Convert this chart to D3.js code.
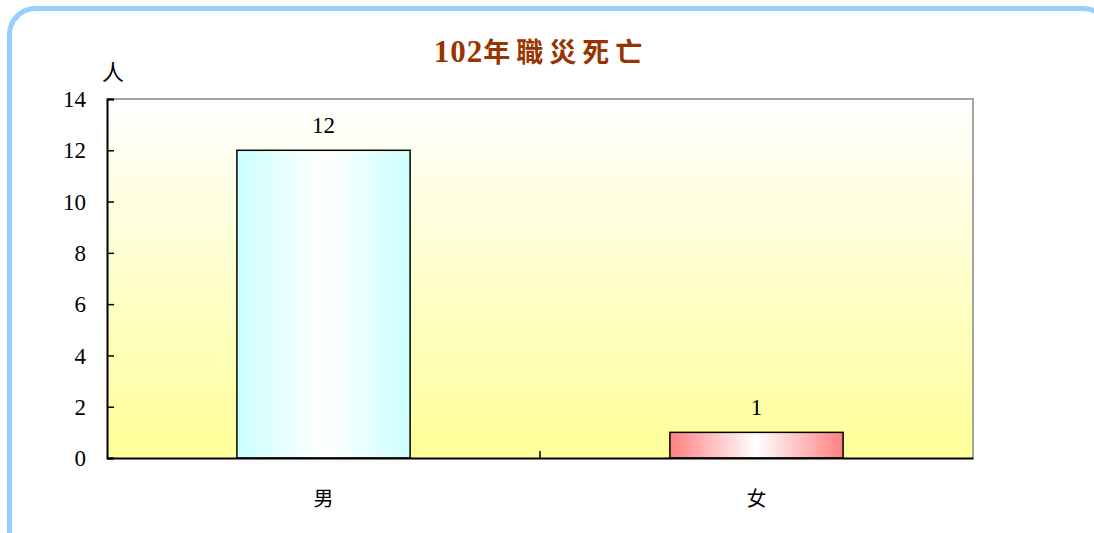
<!DOCTYPE html>
<html><head><meta charset="utf-8">
<script src="https://cdn.jsdelivr.net/npm/d3@7"></script>
<style>
html,body{margin:0;padding:0;background:#fff;}
svg{display:block;}
</style></head>
<body>
<svg id="chart" width="1094" height="533"></svg>
<script>
const titleNum = "102";
const titleText = "年職災死亡";
const unitLabel = "人";
const categories = ["男", "女"];
const values = [12, 1];
const yTicks = [0, 2, 4, 6, 8, 10, 12, 14];

const svg = d3.select("#chart");
const m = {left: 107, right: 973, top: 99, bottom: 458};
const serif = "'Liberation Serif','DejaVu Serif','Noto Sans CJK TC',serif";
const cjk = "'Noto Sans CJK TC','Noto Sans CJK SC',serif";

const defs = svg.append("defs");
const bg = defs.append("linearGradient").attr("id","bg").attr("x1",0).attr("y1",0).attr("x2",0).attr("y2",1);
bg.append("stop").attr("offset","0%").attr("stop-color","#ffffff");
bg.append("stop").attr("offset","100%").attr("stop-color","#ffff99");
const barColors = ["#ccffff", "#ff8080"];
barColors.forEach((c,i)=>{
  const g = defs.append("linearGradient").attr("id","bar"+i).attr("x1",0).attr("y1",0).attr("x2",1).attr("y2",0);
  g.append("stop").attr("offset","0%").attr("stop-color",c);
  g.append("stop").attr("offset","50%").attr("stop-color","#ffffff");
  g.append("stop").attr("offset","100%").attr("stop-color",c);
});

// outer rounded frame
svg.append("rect").attr("x",9.5).attr("y",8.5).attr("width",1100).attr("height",560)
  .attr("rx",26).attr("ry",26).attr("fill","#fff").attr("stroke","#99ccff").attr("stroke-width",5);

const x = d3.scaleBand().domain(categories).range([m.left, m.right]).paddingInner(0).paddingOuter(0);
const y = d3.scaleLinear().domain([0, 14]).range([m.bottom, m.top]);

// plot background
svg.append("rect").attr("x",m.left).attr("y",m.top).attr("width",m.right-m.left).attr("height",m.bottom-m.top)
  .attr("fill","url(#bg)");
svg.append("path").attr("d",`M${m.left},${m.top}H${m.right}V${m.bottom}`).attr("fill","none")
  .attr("stroke","#888").attr("stroke-width",1.5);

// bars
const bw = x.bandwidth()*0.4;
svg.selectAll("rect.bar").data(values).enter().append("rect").attr("class","bar")
  .attr("x",(d,i)=>x(categories[i])+x.bandwidth()/2-bw/2)
  .attr("y",d=>y(d)).attr("width",bw).attr("height",d=>y(0)-y(d))
  .attr("fill",(d,i)=>`url(#bar${i})`).attr("stroke","#000").attr("stroke-width",1.5);

// value labels
svg.selectAll("text.val").data(values).enter().append("text").attr("class","val")
  .attr("x",(d,i)=>x(categories[i])+x.bandwidth()/2).attr("y",d=>y(d)-17)
  .attr("text-anchor","middle").attr("font-family",serif).attr("font-size",23).attr("fill","#000")
  .text(d=>d);

// y axis
const yAxis = d3.axisLeft(y).tickValues(yTicks).tickSize(-7).tickPadding(21);
const ga = svg.append("g").attr("transform",`translate(${m.left},0)`).call(yAxis);
ga.select(".domain").attr("stroke","#000").attr("stroke-width",2);
ga.selectAll(".tick line").attr("stroke","#000").attr("stroke-width",1.5);
ga.selectAll(".tick text").attr("font-family",serif).attr("font-size",23).attr("fill","#000").attr("dy","0.33em");

// x axis
const xAxis = d3.axisBottom(x).tickSize(0).tickPadding(30);
const gx = svg.append("g").attr("transform",`translate(0,${m.bottom})`).call(xAxis);
gx.select(".domain").attr("stroke","#000").attr("stroke-width",2);
gx.selectAll(".tick text").attr("font-family",cjk).attr("font-size",20).attr("fill","#000").attr("dy","0.9em");
svg.append("line").attr("x1",x(categories[1])).attr("x2",x(categories[1]))
  .attr("y1",m.bottom).attr("y2",m.bottom-7).attr("stroke","#000").attr("stroke-width",1.5);

// unit label
svg.append("text").attr("x",113).attr("y",80).attr("text-anchor","middle")
  .attr("font-family",cjk).attr("font-size",22).attr("fill","#000").text(unitLabel);

// title
const t = svg.append("text").attr("x",541).attr("y",62).attr("text-anchor","middle")
  .attr("fill","#993300").attr("font-weight","bold");
t.append("tspan").attr("font-family",serif).attr("font-size",31).attr("letter-spacing",1).text(titleNum);
t.append("tspan").attr("font-family",cjk).attr("font-size",27).attr("letter-spacing",6).text(titleText);
</script>
</body></html>
